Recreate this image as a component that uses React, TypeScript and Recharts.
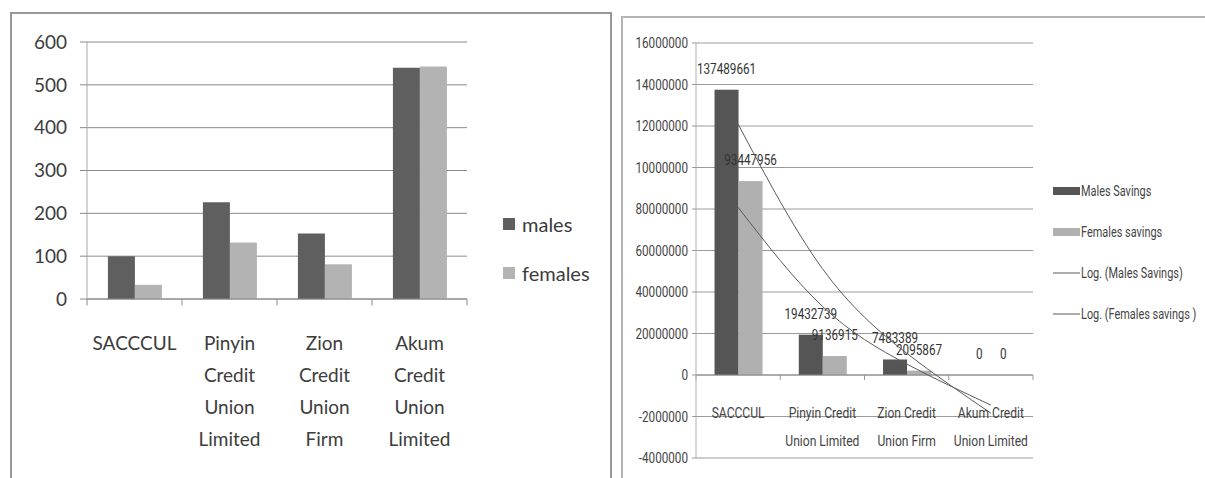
import React from "react";
import {
  BarChart,
  Bar,
  XAxis,
  YAxis,
  CartesianGrid,
  Legend,
  ComposedChart,
  Line,
  ReferenceLine,
} from "recharts";

// ---------- Left chart: members ----------
const unions = [
  "SACCCUL",
  "Pinyin Credit Union Limited",
  "Zion Credit Union Firm",
  "Akum Credit Union Limited",
];
const males = [100, 226, 153, 540];
const females = [33, 132, 81, 543];
const countTicks = [0, 100, 200, 300, 400, 500, 600];
const countSeries = ["males", "females"];

// ---------- Right chart: savings ----------
const maleSavings = [137489661, 19432739, 7483389, 0];
const femaleSavings = [93447956, 9136915, 2095867, 0];
const maleTrend = [120900000, 51300000, 10500000, -18400000];
const femaleTrend = [80800000, 33100000, 5300000, -14500000];
const savingsTicks = [
  -40000000, -20000000, 0, 20000000, 40000000, 60000000, 80000000, 100000000,
  120000000, 140000000, 160000000,
];
const savingsTickLabels = [
  "-4000000",
  "-2000000",
  "0",
  "20000000",
  "40000000",
  "60000000",
  "80000000",
  "10000000",
  "12000000",
  "14000000",
  "16000000",
];
const savingsSeries = [
  "Males Savings",
  "Females savings",
  "Log. (Males Savings)",
  "Log. (Females savings )",
];

const countData = unions.map((u, i) => ({
  name: u,
  males: males[i],
  females: females[i],
}));

const savingsData = unions.map((u, i) => ({
  name: u,
  males: maleSavings[i],
  females: femaleSavings[i],
  maleTrend: maleTrend[i],
  femaleTrend: femaleTrend[i],
}));

// category boundaries: start of each band, plus end of the last one
const bandEdges = [
  ...unions.map((u) => ({ cat: u, pos: "start" as const })),
  { cat: unions[unions.length - 1], pos: "end" as const },
];

const LEFT_FONT = "Lato, 'Open Sans', sans-serif";
const RIGHT_FONT = "Roboto, 'Noto Sans', sans-serif";
const SQUEEZE = 0.78;

const NarrowText = ({
  x,
  y,
  anchor = "middle",
  size = 15,
  fill = "#444",
  lines,
  lineGap = 28,
}: any) => (
  <text
    transform={`translate(${x},${y}) scale(${SQUEEZE},1)`}
    textAnchor={anchor}
    fontSize={size}
    fontFamily={RIGHT_FONT}
    fill={fill}
  >
    {lines.map((l: string, i: number) => (
      <tspan key={i} x={0} dy={i === 0 ? 0 : lineGap}>
        {l}
      </tspan>
    ))}
  </text>
);

const CountTick = (props: any) => {
  const { x, y, payload } = props;
  const words = String(payload.value).split(" ");
  return (
    <text
      x={x}
      y={y + 51}
      textAnchor="middle"
      fill="#3c3c3c"
      fontSize={19}
      fontFamily={LEFT_FONT}
    >
      {words.map((w, i) => (
        <tspan key={i} x={x} dy={i === 0 ? 0 : 32}>
          {w}
        </tspan>
      ))}
    </text>
  );
};

const SavingsTick = (props: any) => {
  const { x, y, payload } = props;
  const words = String(payload.value).split(" ");
  const lines =
    words.length > 2
      ? [words.slice(0, 2).join(" "), words.slice(2).join(" ")]
      : [words.join(" ")];
  return <NarrowText x={x} y={y - 40} size={15.5} lines={lines} />;
};

const SavingsYTick = (props: any) => {
  const { x, y, payload } = props;
  const label = savingsTickLabels[savingsTicks.indexOf(payload.value)];
  return <NarrowText x={x} y={y + 5} anchor="end" size={15} lines={[label]} />;
};

// Bar shape that also writes the value label above the bar (labels zero bars too)
const makeSavingsShape = (key: string) => (p: any) => {
  const value = p.payload ? p.payload[key] : 0;
  const top = value ? p.y : p.y + p.height;
  return (
    <g>
      {value ? (
        <rect x={p.x} y={p.y} width={p.width} height={p.height} fill={p.fill} />
      ) : null}
      <NarrowText
        x={p.x + p.width / 2}
        y={top - 16}
        size={15}
        fill="#333"
        lines={[String(value)]}
      />
    </g>
  );
};

const orderBy = (payload: any[], order: string[]) =>
  [...payload].sort((a, b) => order.indexOf(a.value) - order.indexOf(b.value));

const CountLegend = (props: any) => {
  const payload = orderBy(props.payload || [], countSeries);
  return (
    <div>
      {payload.map((e: any, i: number) => (
        <div
          key={i}
          style={{
            display: "flex",
            alignItems: "center",
            height: 49,
            fontFamily: LEFT_FONT,
            fontSize: 20,
            color: "#3c3c3c",
          }}
        >
          <div
            style={{ width: 12, height: 12, background: e.color, marginRight: 7 }}
          />
          <span>{e.value}</span>
        </div>
      ))}
    </div>
  );
};

const SavingsLegend = (props: any) => {
  const payload = orderBy(props.payload || [], savingsSeries);
  return (
    <div>
      {payload.map((e: any, i: number) => (
        <div
          key={i}
          style={{
            display: "flex",
            alignItems: "center",
            height: 41,
            fontFamily: RIGHT_FONT,
            fontSize: 14,
            color: "#444",
            whiteSpace: "nowrap",
          }}
        >
          <svg width={27} height={10} style={{ marginRight: 1, flex: "none" }}>
            {e.type === "line" ? (
              <line x1={0} y1={5} x2={27} y2={5} stroke={e.color} strokeWidth={1} />
            ) : (
              <rect x={0} y={1} width={27} height={8} fill={e.color} />
            )}
          </svg>
          <span
            style={{
              display: "inline-block",
              transform: `scaleX(${SQUEEZE})`,
              transformOrigin: "left center",
            }}
          >
            {e.value}
          </span>
        </div>
      ))}
    </div>
  );
};

export default function App() {
  return (
    <div
      style={{
        position: "absolute",
        left: 0,
        top: 0,
        width: 1205,
        height: 478,
        background: "#fff",
        overflow: "hidden",
      }}
    >
      {/* Left panel frame */}
      <div
        style={{
          position: "absolute",
          left: 10,
          top: 12,
          width: 602,
          height: 480,
          boxSizing: "border-box",
          border: "2px solid #999",
        }}
      />
      {/* Right panel frame */}
      <div
        style={{
          position: "absolute",
          left: 621,
          top: 16,
          width: 600,
          height: 480,
          boxSizing: "border-box",
          border: "2px solid #b4b4b4",
        }}
      />

      <div style={{ position: "absolute", left: 0, top: 0, width: 600, height: 478 }}>
        <BarChart
          width={600}
          height={478}
          data={countData}
          margin={{ top: 42, right: 133, bottom: 178, left: 0 }}
          barCategoryGap="22%"
          barGap={0}
        >
          <CartesianGrid vertical={false} stroke="#8a8a8a" />
          <XAxis
            dataKey="name"
            height={1}
            interval={0}
            axisLine={{ stroke: "#8a8a8a" }}
            tickLine={false}
            tickSize={0}
            tickMargin={0}
            tick={(p: any) => <CountTick {...p} />}
          />
          <YAxis
            domain={[0, 600]}
            ticks={countTicks}
            interval={0}
            width={87}
            axisLine={{ stroke: "#a8a8a8" }}
            tickLine={{ stroke: "#8a8a8a" }}
            tickSize={7}
            tickMargin={13}
            tick={{ fill: "#3c3c3c", fontSize: 19, fontFamily: LEFT_FONT }}
          />
          {bandEdges.map((b, i) => (
            <ReferenceLine
              key={i}
              ifOverflow="visible"
              position={b.pos}
              stroke="#8a8a8a"
              segment={[
                { x: b.cat, y: 0 },
                { x: b.cat, y: -15 },
              ]}
            />
          ))}
          <Bar dataKey="males" name="males" fill="#5f5f5f" isAnimationActive={false} />
          <Bar dataKey="females" name="females" fill="#b3b3b3" isAnimationActive={false} />
          <Legend
            layout="vertical"
            align="center"
            verticalAlign="middle"
            content={(p: any) => <CountLegend {...p} />}
            wrapperStyle={{ left: 503, top: 199, width: 100 }}
          />
        </BarChart>
      </div>

      <div style={{ position: "absolute", left: 612, top: 0, width: 593, height: 478 }}>
        <ComposedChart
          width={593}
          height={478}
          data={savingsData}
          margin={{ top: 43, right: 172, bottom: 19, left: 0 }}
          barCategoryGap="22%"
          barGap={0}
        >
          <CartesianGrid vertical={false} stroke="#9a9a9a" />
          <XAxis
            dataKey="name"
            height={1}
            interval={0}
            axisLine={false}
            tickLine={false}
            tickSize={0}
            tickMargin={0}
            tick={(p: any) => <SavingsTick {...p} />}
          />
          <YAxis
            domain={[-40000000, 160000000]}
            ticks={savingsTicks}
            interval={0}
            width={84}
            axisLine={{ stroke: "#b0b0b0" }}
            tickLine={{ stroke: "#9a9a9a" }}
            tickSize={4}
            tickMargin={4}
            tick={(p: any) => <SavingsYTick {...p} />}
          />
          <ReferenceLine y={0} stroke="#8a8a8a" />
          {bandEdges.map((b, i) => (
            <ReferenceLine
              key={i}
              ifOverflow="visible"
              position={b.pos}
              stroke="#9a9a9a"
              segment={[
                { x: b.cat, y: 0 },
                { x: b.cat, y: -2400000 },
              ]}
            />
          ))}
          <Bar
            dataKey="males"
            name="Males Savings"
            fill="#555555"
            minPointSize={1}
            shape={makeSavingsShape("males")}
            isAnimationActive={false}
          />
          <Bar
            dataKey="females"
            name="Females savings"
            fill="#b0b0b0"
            minPointSize={1}
            shape={makeSavingsShape("females")}
            isAnimationActive={false}
          />
          <Line
            type="natural"
            dataKey="maleTrend"
            name="Log. (Males Savings)"
            stroke="#5a5a5a"
            strokeWidth={1}
            dot={false}
            activeDot={false}
            legendType="line"
            isAnimationActive={false}
          />
          <Line
            type="natural"
            dataKey="femaleTrend"
            name="Log. (Females savings )"
            stroke="#5a5a5a"
            strokeWidth={1}
            dot={false}
            activeDot={false}
            legendType="line"
            isAnimationActive={false}
          />
          <Legend
            layout="vertical"
            align="center"
            verticalAlign="middle"
            content={(p: any) => <SavingsLegend {...p} />}
            wrapperStyle={{ left: 441, top: 170, width: 150 }}
          />
        </ComposedChart>
      </div>
    </div>
  );
}
